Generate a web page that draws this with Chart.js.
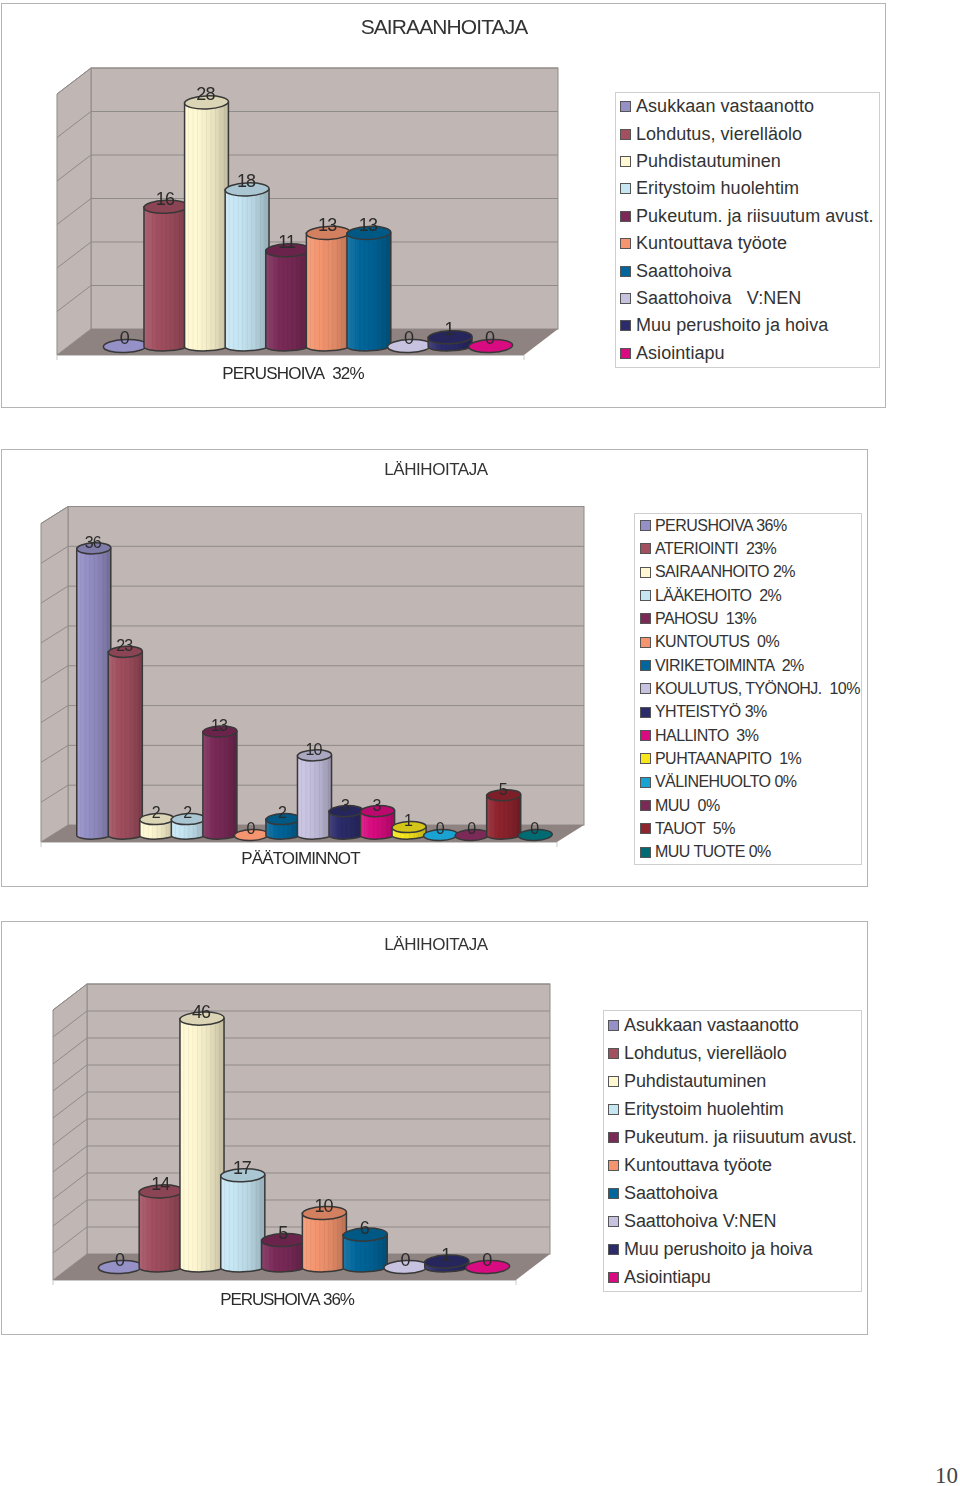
<!DOCTYPE html>
<html lang="fi">
<head>
<meta charset="utf-8">
<title>Sairaanhoitaja / lähihoitaja</title>
<script src="https://cdn.jsdelivr.net/npm/chart.js@4/dist/chart.umd.min.js"></script>
<style>
  html, body { margin: 0; background: #fff; }
  #page { position: relative; width: 960px; height: 1486px; overflow: hidden; font-family: "Liberation Sans", Arial, sans-serif; color: #333; }
  .frame { position: absolute; outline: 1px solid #b4b4b4; outline-offset: -1px; }
  .frame canvas { position: absolute; left: 0; top: 0; }
  .chart-title { position: absolute; left: 0; right: 0; text-align: center; white-space: pre; }
  .legend { position: absolute; box-sizing: border-box; border: 1px solid #cfcfcf; background: #fff; display: flex; flex-direction: column; }
  .legend-row { flex: 1; display: flex; align-items: center; white-space: pre; }
  .legend-mark { flex: none; box-sizing: border-box; width: 11px; height: 11px; border: 1px solid #555; }
  #page-number { position: absolute; left: 935px; top: 1463px; font: 23px "Liberation Serif", serif; color: #444; }
</style>
</head>
<body>
<div id="page">
  <div id="page-number">10</div>
</div>
<script>
const firstTitle = "SAIRAANHOITAJA";
const secondTitle = "LÄHIHOITAJA";
const thirdTitle = "LÄHIHOITAJA";

const firstCategories = ["PERUSHOIVA  32%"];
const secondCategories = ["PÄÄTOIMINNOT"];
const thirdCategories = ["PERUSHOIVA 36%"];

const firstNames = ["Asukkaan vastaanotto", "Lohdutus, vierelläolo", "Puhdistautuminen", "Eritystoim huolehtim", "Pukeutum. ja riisuutum avust.", "Kuntouttava työote", "Saattohoiva", "Saattohoiva   V:NEN", "Muu perushoito ja hoiva", "Asiointiapu"];
const firstValues = [0, 16, 28, 18, 11, 13, 13, 0, 1, 0];

const secondNames = ["PERUSHOIVA 36%", "ATERIOINTI  23%", "SAIRAANHOITO 2%", "LÄÄKEHOITO  2%", "PAHOSU  13%", "KUNTOUTUS  0%", "VIRIKETOIMINTA  2%", "KOULUTUS, TYÖNOHJ.  10%", "YHTEISTYÖ 3%", "HALLINTO  3%", "PUHTAANAPITO  1%", "VÄLINEHUOLTO 0%", "MUU  0%", "TAUOT  5%", "MUU TUOTE 0%"];
const secondValues = [36, 23, 2, 2, 13, 0, 2, 10, 3, 3, 1, 0, 0, 5, 0];

const thirdNames = ["Asukkaan vastaanotto", "Lohdutus, vierelläolo", "Puhdistautuminen", "Eritystoim huolehtim", "Pukeutum. ja riisuutum avust.", "Kuntouttava työote", "Saattohoiva", "Saattohoiva V:NEN", "Muu perushoito ja hoiva", "Asiointiapu"];
const thirdValues = [0, 14, 46, 17, 5, 10, 6, 0, 1, 0];

const seriesColors = ["#9590c6", "#a24f60", "#fff8d2", "#c6e6f4", "#7b2a58", "#f4956f", "#00669b", "#c6c2e0", "#2c2b6b", "#d90b80", "#f7e61c", "#1aa3d2", "#7b2a58", "#90242e", "#006b73"];

const wallColor = "#c0b6b3";
const floorColor = "#8e8380";
const wallLineColor = "#8f8b88";
const barOutline = "#383838";

function shade(hex, amount) {
  const target = amount < 0 ? 0 : 255;
  const k = Math.abs(amount);
  const parts = [1, 3, 5].map((i) => parseInt(hex.slice(i, i + 2), 16));
  return "rgb(" + parts.map((p) => Math.round(p + (target - p) * k)).join(",") + ")";
}

// back wall, side wall and floor, hung on the y scale ticks
const wallsPlugin = {
  id: "walls",
  beforeDatasetsDraw(chart, args, opts) {
    const { ctx, scales } = chart;
    const y = scales.y;
    const zero = y.getPixelForValue(0);
    const top = y.getPixelForValue(y.max);
    const backLeft = opts.backLeft;
    const backRight = opts.backRight;
    const back = (v) => y.getPixelForValue(v) - opts.lift;
    const frontLeft = backLeft - opts.dx;
    const frontRight = backRight - opts.dx;
    const floorBack = zero - opts.lift;
    const floorFront = floorBack + opts.dy;
    const wallTop = top - opts.lift;

    ctx.save();
    ctx.lineWidth = 1;
    ctx.strokeStyle = wallLineColor;

    ctx.fillStyle = wallColor;
    ctx.fillRect(backLeft, wallTop, backRight - backLeft, floorBack - wallTop);
    ctx.strokeRect(backLeft, wallTop, backRight - backLeft, floorBack - wallTop);

    ctx.beginPath();
    ctx.moveTo(backLeft, wallTop);
    ctx.lineTo(frontLeft, wallTop + opts.dy);
    ctx.lineTo(frontLeft, floorFront);
    ctx.lineTo(backLeft, floorBack);
    ctx.closePath();
    ctx.fill();
    ctx.stroke();

    ctx.fillStyle = floorColor;
    ctx.beginPath();
    ctx.moveTo(backLeft, floorBack);
    ctx.lineTo(backRight, floorBack);
    ctx.lineTo(frontRight, floorFront);
    ctx.lineTo(frontLeft, floorFront);
    ctx.closePath();
    ctx.fill();

    ctx.beginPath();
    y.ticks.forEach((tick) => {
      if (tick.value === 0) return;
      const gy = back(tick.value);
      ctx.moveTo(backRight, gy);
      ctx.lineTo(backLeft, gy);
      ctx.lineTo(frontLeft, gy + opts.dy);
    });
    ctx.stroke();

    // small marks under the front corners of the floor
    ctx.strokeStyle = "#c9c9c9";
    ctx.beginPath();
    ctx.moveTo(frontLeft, floorFront);
    ctx.lineTo(frontLeft, floorFront + 5);
    ctx.moveTo(frontLeft, floorFront + 0.5);
    ctx.lineTo(frontRight, floorFront + 0.5);
    ctx.moveTo(frontRight, floorFront);
    ctx.lineTo(frontRight, floorFront + 5);
    ctx.stroke();
    ctx.restore();
  }
};

// turns the library's flat bars into the ribbed cylinders, then writes the values
const cylinderPlugin = {
  id: "cylinders",
  afterDatasetsDraw(chart, args, opts) {
    const { ctx } = chart;
    const bars = chart.data.datasets.map((ds, i) => {
      const el = chart.getDatasetMeta(i).data[0];
      return { value: ds.data[0], color: ds.backgroundColor, ...el.getProps(["x", "y", "base", "width"], true) };
    });

    ctx.save();
    bars.forEach((bar) => {
      const w = bar.width * 1.08;
      const left = bar.x - w / 2;
      const right = bar.x + w / 2;
      const ry = opts.capHeight / 2;

      if (bar.value > 0) {
        const grad = ctx.createLinearGradient(left, 0, right, 0);
        grad.addColorStop(0, shade(bar.color, 0.12));
        grad.addColorStop(0.3, bar.color);
        grad.addColorStop(0.65, shade(bar.color, -0.08));
        grad.addColorStop(1, shade(bar.color, -0.24));

        const body = new Path2D();
        body.moveTo(left, bar.y);
        body.lineTo(left, bar.base);
        body.ellipse(bar.x, bar.base, w / 2, ry * 0.75, -0.03, Math.PI, 0, true);
        body.lineTo(right, bar.y);
        body.closePath();
        ctx.fillStyle = grad;
        ctx.fill(body);

        ctx.save();
        ctx.clip(body);
        ctx.strokeStyle = "rgba(0,0,0,0.05)";
        ctx.lineWidth = 1;
        ctx.beginPath();
        for (let rib = left + 4; rib < right; rib += 4.5) {
          ctx.moveTo(rib, bar.y);
          ctx.lineTo(rib, bar.base + ry);
        }
        ctx.stroke();
        ctx.restore();

        ctx.strokeStyle = barOutline;
        ctx.lineWidth = 1.5;
        ctx.stroke(body);
      }

      ctx.beginPath();
      ctx.ellipse(bar.x, bar.y, w / 2, ry, -0.04, 0, Math.PI * 2);
      ctx.fillStyle = bar.value > 0 ? shade(bar.color, -0.14) : bar.color;
      ctx.fill();
      ctx.strokeStyle = barOutline;
      ctx.lineWidth = 1.5;
      ctx.stroke();
    });

    ctx.fillStyle = "#2b2b2b";
    ctx.font = opts.labelFont;
    ctx.textAlign = "center";
    ctx.textBaseline = "middle";
    bars.forEach((bar) => {
      ctx.fillText(String(bar.value), bar.x - 1, bar.y - opts.labelLift);
    });
    ctx.restore();
  }
};

const tightTextPlugin = {
  id: "tightText",
  beforeDraw(chart, args, opts) {
    chart.ctx.letterSpacing = opts.spacing;
  }
};

function addLegend(frame, layout, names) {
  const box = document.createElement("div");
  box.className = "legend";
  box.style.left = (layout.left - frame.left) + "px";
  box.style.top = (layout.top - frame.top) + "px";
  box.style.width = layout.width + "px";
  box.style.height = layout.height + "px";
  box.style.font = layout.font;
  box.style.letterSpacing = layout.spacing;
  box.style.paddingLeft = layout.markPad + "px";
  names.forEach((name, i) => {
    const row = document.createElement("div");
    row.className = "legend-row";
    const mark = document.createElement("span");
    mark.className = "legend-mark";
    mark.style.background = seriesColors[i];
    mark.style.marginRight = layout.textGap + "px";
    const text = document.createElement("span");
    text.textContent = name;
    row.append(mark, text);
    box.append(row);
  });
  return box;
}

function buildChart(title, categories, names, values, layout) {
  const page = document.getElementById("page");
  const f = layout.frame;
  const frame = document.createElement("div");
  frame.className = "frame";
  frame.style.cssText = `left:${f.left}px;top:${f.top}px;width:${f.width}px;height:${f.height}px`;

  const canvas = document.createElement("canvas");
  canvas.width = f.width;
  canvas.height = f.height;
  frame.append(canvas);

  const heading = document.createElement("div");
  heading.className = "chart-title";
  heading.textContent = title;
  heading.style.top = (layout.titleTop - f.top) + "px";
  heading.style.font = layout.titleFont;
  heading.style.letterSpacing = layout.titleSpacing;
  heading.style.paddingLeft = layout.titleShift + "px";
  frame.append(heading);

  frame.append(addLegend(f, layout.legend, names));
  page.append(frame);

  return new Chart(canvas, {
    type: "bar",
    data: {
      labels: categories,
      datasets: names.map((name, i) => ({
        label: name,
        data: [values[i]],
        backgroundColor: seriesColors[i],
        borderWidth: 0,
        barPercentage: 1,
        categoryPercentage: 1
      }))
    },
    options: {
      responsive: false,
      animation: false,
      layout: {
        padding: {
          left: layout.plotLeft - f.left,
          right: f.left + f.width - layout.plotRight,
          top: layout.plotTop - f.top,
          bottom: 0
        }
      },
      plugins: {
        legend: { display: false },
        title: { display: false },
        tooltip: { enabled: false },
        walls: layout.walls,
        cylinders: layout.bars,
        tightText: { spacing: layout.axisSpacing }
      },
      scales: {
        x: {
          grid: { display: false },
          border: { display: false },
          ticks: {
            color: "#2b2b2b",
            font: { family: "'Liberation Sans'", size: layout.axisSize },
            padding: layout.axisPad,
            labelOffset: layout.axisShift,
            maxRotation: 0
          },
          afterFit(scale) {
            scale.height = f.top + f.height - layout.plotZero;
          }
        },
        y: {
          display: false,
          min: 0,
          max: layout.yMax,
          ticks: { stepSize: layout.yStep }
        }
      }
    },
    plugins: [tightTextPlugin, wallsPlugin, cylinderPlugin]
  });
}

// walls are given in canvas pixels, everything else in page pixels
buildChart(firstTitle, firstCategories, firstNames, firstValues, {
  frame: { left: 1, top: 3, width: 885, height: 405 },
  titleTop: 15, titleFont: "21px 'Liberation Sans'", titleSpacing: "-0.9px", titleShift: 1,
  plotLeft: 105, plotRight: 511, plotTop: 85, plotZero: 346,
  yMax: 30, yStep: 5,
  axisSize: 17, axisPad: 10, axisShift: -15, axisSpacing: "-0.8px",
  walls: { backLeft: 90, backRight: 557, lift: 17, dx: 34, dy: 26 },
  bars: { capHeight: 13, labelFont: "18px 'Liberation Sans'", labelLift: 7 },
  legend: { left: 615, top: 92, width: 265, height: 276, font: "18px 'Liberation Sans'", spacing: "0.05px", markPad: 4, textGap: 5 }
});

buildChart(secondTitle, secondCategories, secondNames, secondValues, {
  frame: { left: 1, top: 449, width: 867, height: 438 },
  titleTop: 460, titleFont: "17px 'Liberation Sans'", titleSpacing: "-0.45px", titleShift: 3,
  plotLeft: 78, plotRight: 551, plotTop: 516.5, plotZero: 835,
  yMax: 40, yStep: 5,
  axisSize: 17, axisPad: 6, axisShift: -14, axisSpacing: "-0.9px",
  walls: { backLeft: 67, backRight: 583, lift: 10, dx: 27, dy: 17 },
  bars: { capHeight: 11, labelFont: "16px 'Liberation Sans'", labelLift: 5 },
  legend: { left: 634, top: 513, width: 228, height: 352, font: "16px 'Liberation Sans'", spacing: "-0.55px", markPad: 5, textGap: 4 }
});

buildChart(thirdTitle, thirdCategories, thirdNames, thirdValues, {
  frame: { left: 1, top: 921, width: 867, height: 414 },
  titleTop: 935, titleFont: "17px 'Liberation Sans'", titleSpacing: "-0.45px", titleShift: 3,
  plotLeft: 100, plotRight: 508, plotTop: 997, plotZero: 1267,
  yMax: 50, yStep: 5,
  axisSize: 17, axisPad: 15, axisShift: -17, axisSpacing: "-1.1px",
  walls: { backLeft: 86, backRight: 549, lift: 13, dx: 34, dy: 26 },
  bars: { capHeight: 13, labelFont: "18px 'Liberation Sans'", labelLift: 6 },
  legend: { left: 603, top: 1010, width: 259, height: 282, font: "18px 'Liberation Sans'", spacing: "-0.12px", markPad: 4, textGap: 5 }
});
</script>
</body>
</html>
